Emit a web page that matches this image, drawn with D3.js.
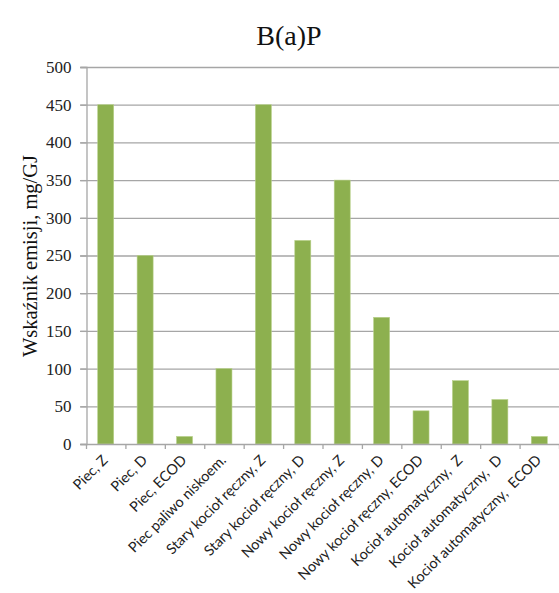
<!DOCTYPE html>
<html><head><meta charset="utf-8">
<script src="https://cdn.jsdelivr.net/npm/d3@7"></script>
<style>body{margin:0;background:#fff}</style>
</head><body>
<svg id="c" width="559" height="593"></svg>
<script>
const categories = ["Piec, Z","Piec, D","Piec, ECOD","Piec paliwo niskoem.","Stary kocioł ręczny, Z","Stary kocioł ręczny, D","Nowy kocioł ręczny, Z","Nowy kocioł ręczny, D","Nowy kocioł ręczny, ECOD","Kocioł automatyczny,  Z","Kocioł automatyczny,  D","Kocioł automatyczny,  ECOD"];
const values = [450,250,10,100,450,270,350,168,44,84,59,10];
const yTicks = [0,50,100,150,200,250,300,350,400,450,500];
const title = "B(a)P";
const yLabel = "Wskaźnik emisji, mg/GJ";

const svg = d3.select("#c");
const L = 86, R = 559, T = 67, B = 444;
const xb = d3.scaleBand().domain(categories).range([L, R]);
const y = d3.scaleLinear().domain([0,500]).range([B, T]);
const serif = "'Liberation Serif','DejaVu Serif',serif";

// gridlines
svg.append("g").selectAll("line").data(yTicks.filter(d=>d>0)).join("line")
  .attr("x1", L-6).attr("x2", R).attr("y1", d=>y(d)+0.5).attr("y2", d=>y(d)+0.5)
  .attr("stroke","#a6a6a6").attr("stroke-width",1.3);

// y axis
const ya = svg.append("g").attr("transform",`translate(${L+0.5},0)`)
  .call(d3.axisLeft(y).tickValues(yTicks).tickSize(6).tickPadding(9));
ya.select(".domain").attr("stroke","#a6a6a6").attr("stroke-width",1.3);
ya.selectAll(".tick line").attr("stroke","#a6a6a6").attr("stroke-width",1.3);
ya.selectAll("text").attr("font-family",serif).attr("font-size",17).attr("fill","#222");

// bars
svg.append("g").selectAll("rect").data(values).join("rect")
  .attr("x",(d,i)=>xb(categories[i]) + xb.bandwidth()/2 - 8)
  .attr("width",16)
  .attr("y",d=>y(d)).attr("height",d=>B-y(d))
  .attr("fill","#8db04f").attr("stroke","#b8d18a").attr("stroke-width",0.6);

// x axis
svg.append("line").attr("x1",L-6).attr("x2",R).attr("y1",B+0.5).attr("y2",B+0.5)
  .attr("stroke","#a6a6a6").attr("stroke-width",1.3);
svg.append("g").selectAll("line").data(categories.concat(["_end"])).join("line")
  .attr("x1",(d,i)=>L+0.5+i*xb.step()).attr("x2",(d,i)=>L+0.5+i*xb.step())
  .attr("y1",B).attr("y2",B+5).attr("stroke","#a6a6a6").attr("stroke-width",1.3);

svg.append("g").selectAll("text").data(categories).join("text")
  .attr("transform",d=>`translate(${xb(d)+xb.bandwidth()/2+3},${B+17}) rotate(-45)`)
  .attr("text-anchor","end")
  .attr("font-family","Lato,'Open Sans',sans-serif").attr("font-size",14.4).attr("fill","#222")
  .style("white-space","pre")
  .text(d=>d);

// title
svg.append("text").attr("x",289).attr("y",45).attr("text-anchor","middle")
  .attr("font-family",serif).attr("font-size",28).attr("fill","#111").text(title);

// y label
svg.append("text").attr("transform","translate(37,256) rotate(-90)").attr("text-anchor","middle")
  .attr("font-family",serif).attr("font-size",20.5).attr("fill","#111").text(yLabel);
</script>
</body></html>
